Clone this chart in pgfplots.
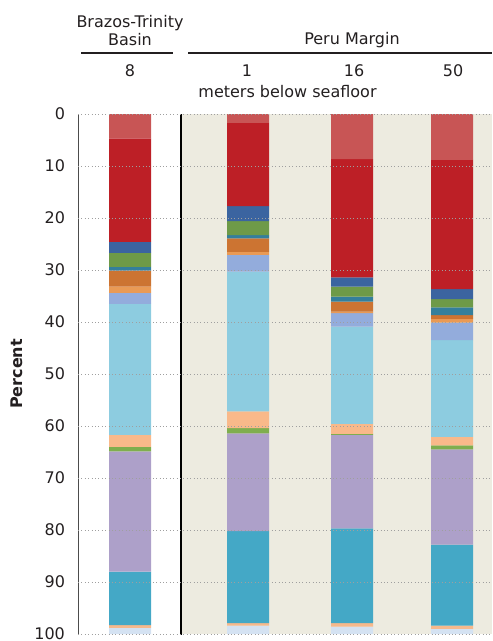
\documentclass[border=0pt]{standalone}
\usepackage{fontspec}
\setmainfont{DejaVu Sans}
\usepackage{pgfplots}
\usepackage{pgfplotstable}
\pgfplotsset{compat=1.18}
\definecolor{bgbeige}{HTML}{EDEBE0}
\definecolor{cLR}{HTML}{C85555}
\definecolor{cRD}{HTML}{BD1F26}
\definecolor{cBL}{HTML}{3B64A0}
\definecolor{cGR}{HTML}{6E9A48}
\definecolor{cTE}{HTML}{347F9C}
\definecolor{cOR}{HTML}{CC7432}
\definecolor{cLO}{HTML}{E99A55}
\definecolor{cPW}{HTML}{93ACDC}
\definecolor{cLB}{HTML}{8DCCE0}
\definecolor{cPE}{HTML}{F9B98A}
\definecolor{cG2}{HTML}{7FAE4E}
\definecolor{cLV}{HTML}{ADA0C9}
\definecolor{cTB}{HTML}{44A8C6}
\definecolor{cP2}{HTML}{F6B98C}
\definecolor{cVL}{HTML}{D4E2F2}
\definecolor{txt}{HTML}{231F20}
\pgfplotstableread{
x   lr   rd   bl  gr  te  or  lo  pw  lb   pe  gtwo lv   tb   ptwo vl
130 4.7  19.9 2.1 2.7 0.7 3.1 1.2 2.1 25.2 2.3 0.9  23.1 10.3 0.5  1.2
248 1.7  16.0 2.9 2.7 0.6 2.6 0.6 3.2 26.9 3.2 1.0  18.8 17.7 0.5  1.6
352 8.7  22.7 1.8 1.9 1.0 1.9 0.3 2.6 18.7 1.9 0.2  18.0 18.2 0.7  1.4
452 8.8  24.9 1.9 1.6 1.5 0.7 0.7 3.4 18.6 1.6 0.8  18.3 15.6 0.6  1.0
}\data
\begin{document}
\begin{tikzpicture}[font=\fontsize{8}{9.6}\selectfont, text=txt]
\useasboundingbox (0,0) rectangle (246pt,-320.5pt);
% beige panel behind the Peru Margin columns
\fill[bgbeige] (90.5pt,-57pt) rectangle (246pt,-317pt);
\begin{axis}[
  at={(39pt,-57pt)}, anchor=north west,
  scale only axis, width=207pt, height=260pt,
  xmin=78, xmax=492, ymin=0, ymax=100,
  y dir=reverse,
  ybar stacked, bar width=21pt,
  xtick=\empty,
  ytick={0,10,...,100},
  ymajorgrids,
  grid style={dash pattern=on 0.5pt off 1.2pt, gray!75, line width=0.5pt},
  axis line style={draw=none},
  major tick length=0pt,
  yticklabel style={text=txt, xshift=-3pt},
  /pgf/number format/assume math mode=true,
  axis on top,
  ylabel={\bfseries Percent},
  ylabel style={at={(rel axis cs:0,0.5)}, anchor=center, yshift=30.5pt, text=txt},
  every axis plot/.append style={draw=none},
]
\addplot[fill=cLR] table[x=x,y=lr]{\data};
\addplot[fill=cRD] table[x=x,y=rd]{\data};
\addplot[fill=cBL] table[x=x,y=bl]{\data};
\addplot[fill=cGR] table[x=x,y=gr]{\data};
\addplot[fill=cTE] table[x=x,y=te]{\data};
\addplot[fill=cOR] table[x=x,y=or]{\data};
\addplot[fill=cLO] table[x=x,y=lo]{\data};
\addplot[fill=cPW] table[x=x,y=pw]{\data};
\addplot[fill=cLB] table[x=x,y=lb]{\data};
\addplot[fill=cPE] table[x=x,y=pe]{\data};
\addplot[fill=cG2] table[x=x,y=gtwo]{\data};
\addplot[fill=cLV] table[x=x,y=lv]{\data};
\addplot[fill=cTB] table[x=x,y=tb]{\data};
\addplot[fill=cP2] table[x=x,y=ptwo]{\data};
\addplot[fill=cVL] table[x=x,y=vl]{\data};
\draw[gray!60!black, line width=0.6pt] (axis cs:78,-0.3) -- (axis cs:78,100.4);
\draw[black, line width=1pt] (axis cs:181,0) -- (axis cs:181,100.4);
\draw[black!85, line width=1pt] (axis cs:78,100.4) -- (axis cs:492,100.4);
\end{axis}
% header
\node[anchor=base] at (65pt,-14pt) {Brazos-Trinity};
\node[anchor=base] at (65pt,-23pt) {Basin};
\draw[txt, line width=0.6pt] (40.5pt,-26.5pt) -- (86.5pt,-26.5pt);
\node[anchor=base] at (176pt,-22.5pt) {Peru Margin};
\draw[txt, line width=0.6pt] (94pt,-26.5pt) -- (246pt,-26.5pt);
\node[anchor=base] at (65pt,-38.5pt) {8};
\node[anchor=base] at (123.5pt,-38.5pt) {1};
\node[anchor=base] at (177pt,-38.5pt) {16};
\node[anchor=base] at (226.5pt,-38.5pt) {50};
\node[anchor=base] at (143.75pt,-49pt) {meters below seafloor};
\end{tikzpicture}
\end{document}
